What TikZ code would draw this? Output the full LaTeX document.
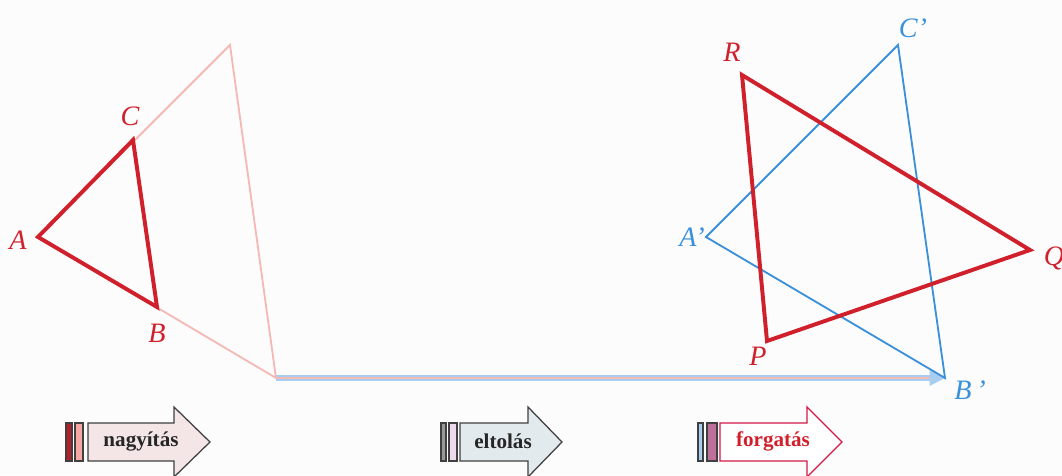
\documentclass[tikz,border=0pt]{standalone}
\usepackage{fontspec}
\setmainfont{Liberation Serif}
\usetikzlibrary{arrows.meta, positioning}

\definecolor{trired}{HTML}{D0202C}
\definecolor{triblue}{HTML}{3A90DA}
\definecolor{tripink}{HTML}{F5B9B5}
\definecolor{shiftblue}{HTML}{A8CDF0}
\definecolor{bgpaper}{HTML}{FCFCFC}
\definecolor{zoomfill}{HTML}{F4E6E6}
\definecolor{movefill}{HTML}{E3EAEE}

\begin{document}
\begin{tikzpicture}[x=0.025cm, y=-0.025cm, >=Stealth, line join=miter,
  vlabel/.style={font=\fontsize{20}{20}\selectfont\itshape, inner sep=0pt},
  redtri/.style={draw=trired, line width=2.8pt},
  bluetri/.style={draw=triblue, line width=1.3pt},
  bigtri/.style={draw=tripink, line width=1.3pt},
  shiftarrow/.style={draw=shiftblue, double=tripink, line width=1.4pt, double distance=1pt,
    -{Triangle[length=11pt, width=11pt, fill=shiftblue]}},
  kindbox/.style={draw=black!75, line width=0.9pt},
  kindbar/.style={draw=black!75, line width=0.9pt},
  kindtext/.style={font=\fontsize{15}{15}\selectfont\bfseries, inner sep=0pt}]
  \useasboundingbox (0,0) rectangle (1062,475);
  \fill[bgpaper] (0,0) rectangle (1062,475);

  % vertices
  \coordinate (A) at (38,237);
  \coordinate (B) at (157,307);
  \coordinate (C) at (133,140);
  \coordinate (B2) at (276,378);
  \coordinate (C2) at (230,45);
  \coordinate (Ap) at (706,237);
  \coordinate (Bp) at (945,378);
  \coordinate (Cp) at (898,45);
  \coordinate (P) at (767,341);
  \coordinate (Q) at (1030,250);
  \coordinate (R) at (742,75);

  % triangles
  \draw[bigtri] (A) -- (C2) -- (B2) -- cycle;
  \draw[redtri] (A) -- (C) -- (B) -- cycle;
  \draw[shiftarrow] (B2) -- (Bp);
  \draw[bluetri] (Ap) -- (Cp) -- (Bp) -- cycle;
  \draw[redtri] (P) -- (Q) -- (R) -- cycle;

  % labels
  \node[vlabel, text=trired] (labA) at (18,240) {A};
  \node[vlabel, text=trired] (labB) at (157,333) {B};
  \node[vlabel, text=trired] (labC) at (130,116) {C};
  \node[vlabel, text=trired] (labP) at (758,356) {P};
  \node[vlabel, text=trired] (labQ) at (1054,258) {Q};
  \node[vlabel, text=trired] (labR) at (732,52) {R};
  \node[vlabel, text=triblue] (labAp) at (692,237) {A’};
  \node[vlabel, text=triblue] (labBp) at (970,390) {B\,’};
  \node[vlabel, text=triblue] (labCp) at (913,28) {C’};

  % nagyitas
  \draw[kindbar, fill=trired!90!black] (66,423) rectangle (72,461);
  \draw[kindbar, fill=tripink!90!red] (75,423) rectangle (83,461);
  \draw[kindbox, fill=zoomfill] (88,423) -- (174,423) -- (174,407) -- (210,442)
    -- (174,477) -- (174,461) -- (88,461) -- cycle;
  \node[kindtext, text=black!85] (nagyitas) at (141,441) {nagyítás};

  % eltolas
  \draw[kindbar, fill=black!40] (441,423) rectangle (446,461);
  \draw[kindbar, fill=violet!15] (449,423) rectangle (457,461);
  \draw[kindbox, fill=movefill] (460,423) -- (528,423) -- (528,407) -- (562,442)
    -- (528,477) -- (528,461) -- (460,461) -- cycle;
  \node[kindtext, text=black!85] (eltolas) at (503,441) {eltolás};

  % forgatas
  \draw[kindbar, fill=shiftblue] (698,423) rectangle (703,461);
  \draw[kindbar, fill=magenta!60!black!70] (707,423) rectangle (717,461);
  \draw[kindbox, draw=red!80!blue!90, fill=white] (720,423) -- (807,423) -- (807,407) -- (842,442)
    -- (807,477) -- (807,461) -- (720,461) -- cycle;
  \node[kindtext, text=trired] (forgatas) at (773,441) {forgatás};
\end{tikzpicture}
\end{document}
